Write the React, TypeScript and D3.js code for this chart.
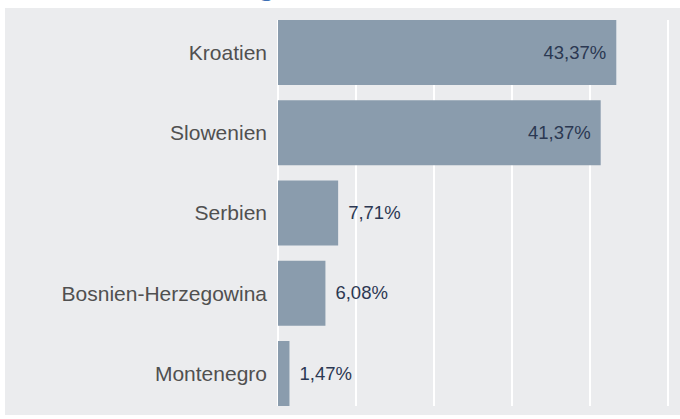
import React from "react";
import * as d3 from "d3";

const categories = ["Kroatien", "Slowenien", "Serbien", "Bosnien-Herzegowina", "Montenegro"];
const values = [43.37, 41.37, 7.71, 6.08, 1.47];
const labels = ["43,37%", "41,37%", "7,71%", "6,08%", "1,47%"];
const xTicks = [0, 10, 20, 30, 40, 50];

const W = 680;
const H = 419;

export default function App() {
  const x = d3.scaleLinear().domain([0, 50]).range([278, 668]);
  const y = d3
    .scaleBand<string>()
    .domain(categories)
    .range([20, 406])
    .paddingInner(0.19)
    .paddingOuter(0);
  const bw = y.bandwidth();
  return (
    <svg
      width={W}
      height={H}
      style={{ position: "absolute", left: 0, top: 0, display: "block" }}
      fontFamily="Liberation Sans, Arial, sans-serif"
    >
      <rect x={0} y={0} width={W} height={H} fill="#ffffff" />
      <text
        x={273}
        y={-4}
        textAnchor="end"
        fontFamily="Liberation Serif, DejaVu Serif, serif"
        fontWeight="bold"
        fontSize={26}
        fill="#3d6fb5"
      >
        Verteilung
      </text>
      <rect x={5} y={8} width={W - 5} height={407} fill="#ebecee" />
      {xTicks.map((t) => (
        <line key={t} x1={x(t)} x2={x(t)} y1={20} y2={406} stroke="#ffffff" strokeWidth={2} />
      ))}
      {categories.map((c, i) => {
        const yy = y(c)!;
        const xe = x(values[i]);
        const inside = values[i] > 20;
        return (
          <g key={c}>
            <rect x={x(0)} y={yy} width={xe - x(0)} height={bw} fill="#8a9cad" />
            <text
              x={267}
              y={yy + bw / 2}
              dy="0.35em"
              textAnchor="end"
              fontSize={21}
              fill="#505050"
            >
              {c}
            </text>
            <text
              x={inside ? xe - 10 : xe + 10}
              y={yy + bw / 2}
              dy="0.33em"
              textAnchor={inside ? "end" : "start"}
              fontSize={18.5}
              fill="#2b3852"
            >
              {labels[i]}
            </text>
          </g>
        );
      })}
    </svg>
  );
}
